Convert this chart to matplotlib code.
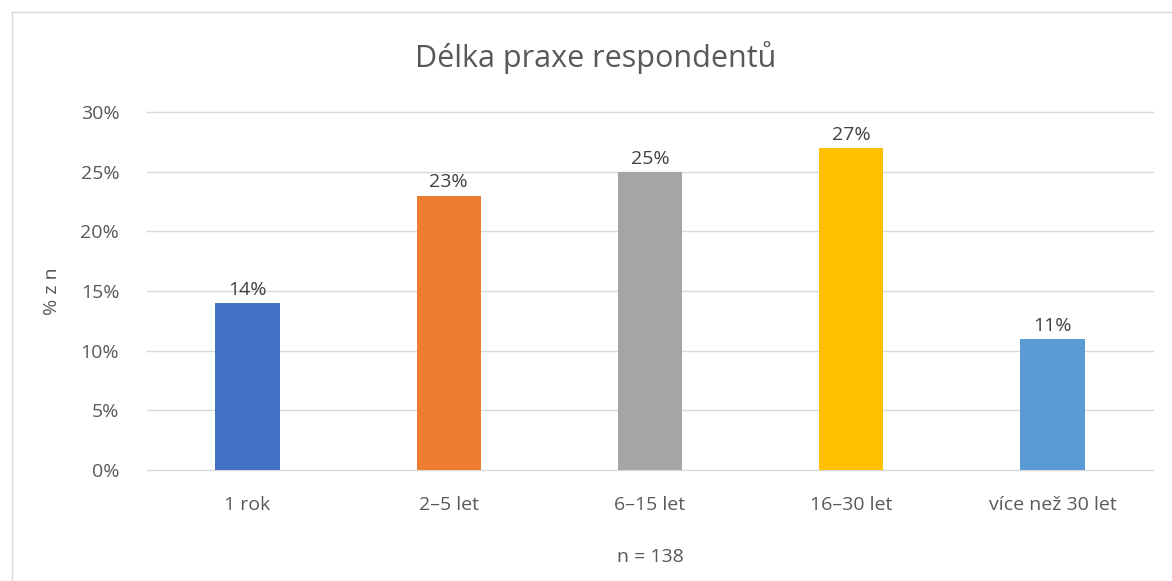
"""Bar chart: Délka praxe respondentů."""

import matplotlib
matplotlib.use("Agg")
import matplotlib.pyplot as plt
from matplotlib.lines import Line2D
from matplotlib.ticker import PercentFormatter

categories = ["1 rok", "2–5 let", "6–15 let", "16–30 let", "více než 30 let"]
shares = [14, 23, 25, 27, 11]
colors = ["#4472C4", "#ED7D31", "#A5A5A5", "#FFC000", "#5B9BD5"]
y_ticks = [0, 5, 10, 15, 20, 25, 30]

TEXT = "#595959"
GRID = "#D9D9D9"

plt.rcParams["font.family"] = ["Open Sans", "DejaVu Sans"]


def main() -> None:
    fig = plt.figure(figsize=(11.72, 5.81), dpi=100)
    ax = fig.add_axes([147 / 1172, 1 - 470 / 581, 1006 / 1172, 358 / 581])

    x = range(len(categories))
    bars = ax.bar(x, shares, width=0.32, color=colors, zorder=3)
    for bar, v in zip(bars, shares):
        ax.annotate(f"{v}%", (bar.get_x() + bar.get_width() / 2, v),
                    xytext=(0, 3), textcoords="offset points",
                    ha="center", va="bottom", fontsize=14, color="#404040")

    ax.set_xlim(-0.5, len(categories) - 0.5)
    ax.set_ylim(0, 30)
    ax.set_yticks(y_ticks)
    ax.yaxis.set_major_formatter(PercentFormatter(decimals=0))
    ax.set_xticks(list(x))
    ax.set_xticklabels(categories)
    ax.tick_params(length=0, labelsize=14, labelcolor=TEXT)
    ax.tick_params(axis="x", pad=19)
    ax.tick_params(axis="y", pad=20)
    ax.grid(axis="y", color=GRID, linewidth=1, zorder=0)
    for gl in ax.get_ygridlines():
        gl.set_clip_on(False)
    for s in ax.spines.values():
        s.set_visible(False)

    ax.set_ylabel("% z n", fontsize=14, color=TEXT, labelpad=14)
    ax.set_xlabel("n = 138", fontsize=14, color=TEXT, labelpad=24)

    fig.text(596 / 1172, 1 - 58 / 581, "Délka praxe respondentů",
             ha="center", va="center", fontsize=22, color=TEXT)

    # chart area border (top and left edges visible)
    fig.add_artist(Line2D([12 / 1172, 12 / 1172], [0, 1 - 12 / 581],
                          transform=fig.transFigure, color=GRID, linewidth=1))
    fig.add_artist(Line2D([12 / 1172, 1], [1 - 12 / 581, 1 - 12 / 581],
                          transform=fig.transFigure, color=GRID, linewidth=1))

    fig.savefig("out.png", dpi=100, facecolor="white")
    plt.close(fig)


if __name__ == "__main__":
    main()
